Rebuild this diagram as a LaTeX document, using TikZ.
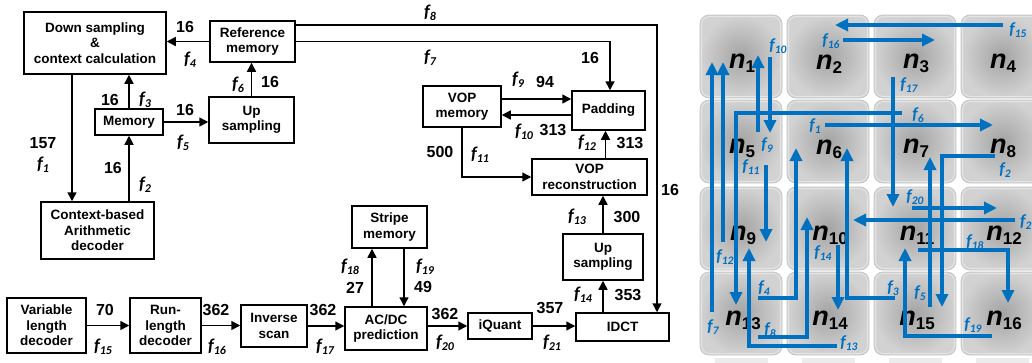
\documentclass[tikz,border=0pt]{standalone}
\usepackage{fontspec}
\setmainfont{Liberation Sans}
\newfontfamily\carl{Carlito}
\usetikzlibrary{arrows.meta}
\definecolor{fblue}{RGB}{0,112,192}
\newcommand\fl[1]{{\carl\fontsize{18}{18}\selectfont\bfseries\itshape f\raisebox{-3pt}{\fontsize{12}{12}\selectfont #1}}}
\newcommand\bfl[1]{{\carl\fontsize{17}{17}\selectfont\bfseries\itshape f\raisebox{-2.5pt}{\fontsize{11.5}{11.5}\selectfont #1}}}
\newcommand\nlab[1]{{\fontsize{27}{27}\selectfont\bfseries\itshape n\raisebox{-4pt}{\fontsize{17}{17}\selectfont\upshape #1}}}
\begin{document}
\begin{tikzpicture}[x=1pt,y=-1pt,
  box/.style={draw, line width=1.5pt, align=center, inner sep=0pt,
    font=\fontsize{13.5}{15.5}\selectfont\bfseries},
  arr/.style={line width=1.5pt, -{Triangle[length=9pt,width=9pt]}},
  num/.style={inner sep=0pt, font=\fontsize{16}{16}\selectfont\bfseries},
  lab/.style={inner sep=0pt},
  blab/.style={inner sep=0pt, text=fblue},
  barr/.style={draw=fblue, line width=3.4pt, -{Triangle[length=13pt,width=12pt]}},
  tile/.style={rounded corners=9pt, inner color=gray!72, outer color=gray!35},
  nl/.style={inner sep=0pt, anchor=base}]
\useasboundingbox (0,0) rectangle (1032,362);
\clip (0,0) rectangle (1032,362);
% ---------------- left block diagram ----------------
\node[box, minimum width=142pt, minimum height=62pt] (ds) at (95,43) {Down sampling\\\&\\context calculation};
\node[box, minimum width=85pt, minimum height=41pt] (ref) at (252.5,41.5) {Reference\\memory};
\node[box, minimum width=68pt, minimum height=26pt] (mem) at (129,122) {Memory};
\node[box, minimum width=85pt, minimum height=46pt] (ups1) at (251.5,120) {Up\\sampling};
\node[box, minimum width=113pt, minimum height=57pt] (cab) at (97.5,230.5) {Context-based\\Arithmetic\\decoder};
\node[box, minimum width=79pt, minimum height=55pt] (vld) at (46.5,325.5) {Variable\\length\\decoder};
\node[box, minimum width=71pt, minimum height=55pt] (rld) at (165.5,325.5) {Run-\\length\\decoder};
\node[box, minimum width=66pt, minimum height=42pt] (isc) at (274,326) {Inverse\\scan};
\node[box, minimum width=75pt, minimum height=42pt] (stripe) at (389.5,227) {Stripe\\memory};
\node[box, minimum width=82pt, minimum height=43pt] (acdc) at (386,328.5) {AC/DC\\prediction};
\node[box, minimum width=64pt, minimum height=26pt] (iq) at (500,326) {iQuant};
\node[box, minimum width=93pt, minimum height=28pt] (idct) at (622.5,327) {IDCT};
\node[box, minimum width=80pt, minimum height=46pt] (ups2) at (603,257) {Up\\sampling};
\node[box, minimum width=115pt, minimum height=36pt] (vrec) at (589.5,177) {VOP\\reconstruction};
\node[box, minimum width=78pt, minimum height=41pt] (vmem) at (462,106.5) {VOP\\memory};
\node[box, minimum width=73pt, minimum height=39pt] (pad) at (608.5,110.5) {Padding};
% connectors
\draw[arr] (ref.west) -- (ds.east |- ref.west);
\draw[arr] (ups1.north) -- (ups1.north |- ref.south);
\draw[arr] (mem.north) -- (mem.north |- ds.south);
\draw[arr] (mem.east) -- (ups1.west |- mem.east);
\draw[arr] ([xshift=-23pt]ds.south) -- ([xshift=-23pt]ds.south |- cab.north);
\draw[arr] (mem.south |- cab.north) -- (mem.south);
\draw[arr] (vld.east) -- (rld.west);
\draw[arr] (rld.east) -- (isc.west |- rld.east);
\draw[arr] (isc.east) -- (acdc.west |- isc.east);
\draw[arr] ([xshift=-14pt]acdc.north) -- ([xshift=-14pt]acdc.north |- stripe.south);
\draw[arr] ([xshift=14.5pt]stripe.south) -- ([xshift=14.5pt]stripe.south |- acdc.north);
\draw[arr] (acdc.east |- iq.west) -- (iq.west);
\draw[arr] (iq.east) -- (idct.west |- iq.east);
\draw[arr] (ups2.south |- idct.north) -- (ups2.south);
\draw[arr] (ups2.north) -- (ups2.north |- vrec.south);
\draw[arr] ([xshift=-3pt]pad.south |- vrec.north) -- ([xshift=-3pt]pad.south);
\draw[arr] (vmem.south) |- (vrec.west);
\draw[arr] ([yshift=7.5pt]vmem.east) -- ([yshift=7.5pt]vmem.east -| pad.west);
\draw[arr] ([yshift=-4.5pt]pad.west) -- ([yshift=-4.5pt]pad.west -| vmem.east);
\draw[arr] (ref.east) -| ([xshift=1.5pt]pad.north);
\draw[arr] ([yshift=16.5pt]ref.east) -| ([xshift=34.5pt]idct.north);
% labels
\node[num] (t4) at (185,27) {16};      \node[lab] (l4) at (190,60) {\fl{4}};
\node[lab] (l6) at (238,85) {\fl{6}};  \node[num] (t6) at (270,82) {16};
\node[num] (t3) at (110,100) {16};     \node[lab] (l3) at (145,100) {\fl{3}};
\node[num] (t5) at (185,110) {16};     \node[lab] (l5) at (183,143) {\fl{5}};
\node[num] (t1) at (43,143) {157};     \node[lab] (l1) at (43,165) {\fl{1}};
\node[num] (t2) at (113,168) {16};     \node[lab] (l2) at (145,185) {\fl{2}};
\node[num] (t15) at (105,310) {70};    \node[lab] (l15) at (103,347) {\fl{15}};
\node[num] (t16) at (216,310) {362};   \node[lab] (l16) at (217,347) {\fl{16}};
\node[num] (t17) at (323,310) {362};   \node[lab] (l17) at (325,347) {\fl{17}};
\node[lab] (l18) at (350,267) {\fl{18}}; \node[num] (t18) at (355,288) {27};
\node[lab] (l19) at (425,267) {\fl{19}}; \node[num] (t19) at (423,287) {49};
\node[num] (t20) at (445,314) {362};   \node[lab] (l20) at (445,343) {\fl{20}};
\node[num] (t21) at (550,308) {357};   \node[lab] (l21) at (552,343) {\fl{21}};
\node[lab] (l14) at (583,295) {\fl{14}}; \node[num] (t14) at (628,295) {353};
\node[lab] (l13) at (577,217) {\fl{13}}; \node[num] (t13) at (627,217) {300};
\node[num] (t8) at (670,190) {16};     \node[lab] (l8) at (430,13) {\fl{8}};
\node[lab] (l7) at (430,58) {\fl{7}};  \node[num] (t7) at (590,58) {16};
\node[lab] (l9) at (518,80) {\fl{9}};  \node[num] (t9) at (545,82) {94};
\node[lab] (l10) at (524,132) {\fl{10}}; \node[num] (t10) at (553,130) {313};
\node[num] (t11) at (440,152) {500};   \node[lab] (l11) at (480,155) {\fl{11}};
\node[lab] (l12) at (587,143) {\fl{12}}; \node[num] (t12) at (630,143) {313};
% ---------------- right mesh ----------------
\foreach \x in {700,787,874,961}{
  \foreach \y in {15,100,187,272}{
    \shade[tile] (\x,\y) rectangle ++(82,83);
    \draw[gray!45, line width=0.8pt, rounded corners=9pt] (\x,\y) rectangle ++(82,83);
    \draw[white!80!gray, line width=1pt, rounded corners=8pt] (\x+1.5,\y+1.5) rectangle ++(79,80);
  }
  \fill[gray!15] (\x+15,358) rectangle ++(53,6);
}
\node[nl] (n1) at (742,68) {\nlab{1}};
\node[nl] (n2) at (829,69) {\nlab{2}};
\node[nl] (n3) at (916,68) {\nlab{3}};
\node[nl] (n4) at (1003,68) {\nlab{4}};
\node[nl] (n5) at (742,153) {\nlab{5}};
\node[nl] (n6) at (829,154) {\nlab{6}};
\node[nl] (n7) at (916,153) {\nlab{7}};
\node[nl] (n8) at (1003,153) {\nlab{8}};
\node[nl] (n9) at (743,240) {\nlab{9}};
\node[nl] (n10) at (830,240) {\nlab{10}};
\node[nl] (n11) at (917,240) {\nlab{11}};
\node[nl] (n12) at (1004,240) {\nlab{12}};
\node[nl] (n13) at (743,325) {\nlab{13}};
\node[nl] (n14) at (830,325) {\nlab{14}};
\node[nl] (n15) at (917,325) {\nlab{15}};
\node[nl] (n16) at (1004,325) {\nlab{16}};
% blue arrows
\draw[barr] (1003,25) -- (835,25);
\draw[barr] (843,40) -- (935,40);
\draw[barr] (770,57) -- (770,133);
\draw[barr] (758,132) -- (758,55);
\draw[barr] (893,77) -- (893,207);
\draw[barr] (902,113) -- (736,113) -- (736,305);
\draw[barr] (825,125) -- (993,125);
\draw[barr] (995,156) -- (942,156) -- (942,307);
\draw[barr] (712,312) -- (712,62);
\draw[barr] (723,242) -- (723,62);
\draw[barr] (766,165) -- (766,242);
\draw[barr] (758,298) -- (796,298) -- (796,148);
\draw[barr] (758,337) -- (807,337) -- (807,217);
\draw[barr] (837,346) -- (749,346) -- (749,248);
\draw[barr] (838,245) -- (838,310);
\draw[barr] (895,298) -- (847,298) -- (847,148);
\draw[barr] (912,208) -- (997,208);
\draw[barr] (1015,220) -- (853,220);
\draw[barr] (918,250) -- (1008,250) -- (1008,303);
\draw[barr] (992,336) -- (905,336) -- (905,248);
\draw[barr] (930,307) -- (930,157);
% blue labels
\node[blab] (b15) at (1018,30) {\bfl{15}};
\node[blab] (b16) at (831,41) {\bfl{16}};
\node[blab] (b10) at (778,46) {\bfl{10}};
\node[blab] (b9) at (767,145) {\bfl{9}};
\node[blab] (b17) at (909,85) {\bfl{17}};
\node[blab] (b6) at (918,115) {\bfl{6}};
\node[blab] (b1) at (815,126) {\bfl{1}};
\node[blab] (b2) at (1005,170) {\bfl{2}};
\node[blab] (b7) at (713,327) {\bfl{7}};
\node[blab] (b12) at (725,257) {\bfl{12}};
\node[blab] (b11) at (751,167) {\bfl{11}};
\node[blab] (b4) at (764,288) {\bfl{4}};
\node[blab] (b8) at (770,330) {\bfl{8}};
\node[blab] (b13) at (849,343) {\bfl{13}};
\node[blab] (b14) at (823,253) {\bfl{14}};
\node[blab] (b3) at (893,288) {\bfl{3}};
\node[blab] (b20) at (915,197) {\bfl{20}};
\node[blab, anchor=west] (b21) at (1020,222) {\bfl{21}};
\node[blab] (b18) at (975,242) {\bfl{18}};
\node[blab] (b19) at (973,325) {\bfl{19}};
\node[blab] (b5) at (920,293) {\bfl{5}};
\end{tikzpicture}
\end{document}
